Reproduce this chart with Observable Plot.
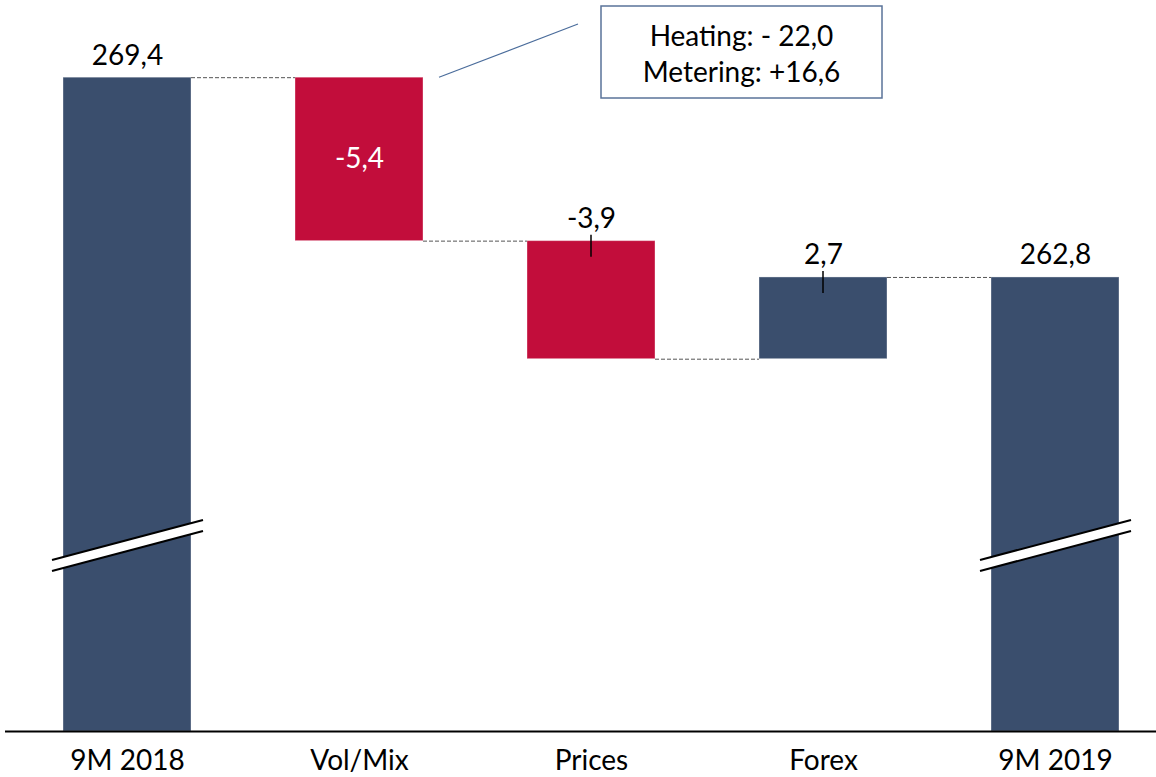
<!DOCTYPE html>
<html><head><meta charset="utf-8">
<script src="https://cdn.jsdelivr.net/npm/d3@7"></script>
<script src="https://cdn.jsdelivr.net/npm/@observablehq/plot@0.6"></script>
<style>
body{margin:0;background:#fff;}
#chart{position:relative;width:1156px;height:777px;}
svg{font-family:Lato,"Open Sans",sans-serif;color:#000;}
</style></head><body><div id="chart"></div>
<script>
// ---- data ----
const categories = ["9M 2018", "Vol/Mix", "Prices", "Forex", "9M 2019"];
const values = [269.4, -5.4, -3.9, 2.7, 262.8];
const isTotal = [true, false, false, false, true];
const valueLabels = ["269,4", "-5,4", "-3,9", "2,7", "262,8"];
const axisFloor = 247.8;   // value at the (broken) baseline
const axisCeil = 271.95;
const breakValue = 253.93; // where the axis-break mark sits
const noteLines = ["Heating: - 22,0", "Metering: +16,6"];

const NAVY = "#3a4e6d", RED = "#c20d3b";
const half = 64 / 232; // bar half-width in category units

let run = 0;
const bars = categories.map((c, i) => {
  let lo, hi;
  if (isTotal[i]) { lo = axisFloor; hi = values[i]; run = values[i]; }
  else { const s = run; run = s + values[i]; lo = Math.min(s, run); hi = Math.max(s, run); }
  return {i, cat: c, lo, hi, end: run, color: values[i] < 0 ? RED : NAVY, label: valueLabels[i], inside: i === 1};
});
const connectors = bars.slice(0, -1).map(b => ({level: b.end, x1: b.i + half, x2: b.i + 1 - half}));

const chart = Plot.plot({
  width: 1156, height: 777,
  marginTop: 0, marginBottom: 46, marginLeft: 5, marginRight: 0,
  x: {type: "linear", domain: [-0.5, 4.5], range: [11, 1171], axis: null},
  y: {domain: [axisFloor, axisCeil], axis: null},
  color: {type: "identity"},
  marks: [
    Plot.rectY(bars, {x1: d => d.i - half, x2: d => d.i + half, y1: "lo", y2: "hi", fill: d => d.color,
      stroke: "#ffffff", strokeOpacity: 0.35, strokeWidth: 1}),
    Plot.ruleY(connectors, {y: "level", x1: "x1", x2: "x2", stroke: "#555", strokeWidth: 1, strokeDasharray: "4,2"}),
    Plot.ruleY([axisFloor], {stroke: "#000", strokeWidth: 2}),
    Plot.text(bars.filter(d => !d.inside), {x: "i", y: "hi", text: "label", dy: -22, fontSize: 28, fill: "#000"}),
    Plot.text(bars.filter(d => d.inside), {x: "i", y: d => (d.lo + d.hi) / 2, text: "label", fontSize: 28, fill: "#fff"}),
    Plot.axisX(d3.range(categories.length), {tickFormat: i => categories[i], tickSize: 0, tickPadding: 19, fontSize: 28, fill: "#000"})
  ]
});
document.getElementById("chart").appendChild(chart);

// ---- decorations drawn with the chart's own scales ----
const xs = chart.scale("x").apply, ys = chart.scale("y").apply;
const svg = d3.select(chart);
const deco = svg.append("g");

// small leader ticks for the Prices and Forex labels
bars.filter(d => !d.inside && !isTotal[d.i]).forEach(d => {
  deco.append("line").attr("x1", xs(d.i)).attr("x2", xs(d.i))
    .attr("y1", ys(d.hi) - 6).attr("y2", ys(d.hi) + 16)
    .attr("stroke", "#000").attr("stroke-width", 1.5);
});

// axis-break marks on the total bars
bars.filter(d => isTotal[d.i]).forEach(d => {
  const cx = xs(d.i), cy = ys(breakValue);
  const L = cx - 75, R = cx + 76;
  deco.append("polygon")
    .attr("points", [[L, cy + 14.5], [R, cy - 25.5], [R, cy - 14.5], [L, cy + 25.5]].map(p => p.join(",")).join(" "))
    .attr("fill", "#fff");
  [[14.5, -25.5], [25.5, -14.5]].forEach(([a, b]) => {
    deco.append("line").attr("x1", L).attr("y1", cy + a).attr("x2", R).attr("y2", cy + b)
      .attr("stroke", "#000").attr("stroke-width", 2);
  });
});

// annotation callout
const ax = xs(1 + half) + 16, ay = ys(values[0]);
deco.append("line").attr("x1", ax).attr("y1", ay).attr("x2", 578).attr("y2", 24)
  .attr("stroke", "#4a6c9b").attr("stroke-width", 1.2);
deco.append("rect").attr("x", 601).attr("y", 6).attr("width", 281).attr("height", 92)
  .attr("fill", "#fff").attr("stroke", "#5a7399").attr("stroke-width", 1.5);
noteLines.forEach((t, k) => {
  deco.append("text").attr("x", 741.5).attr("y", 36 + k * 36).attr("dy", "0.35em")
    .attr("text-anchor", "middle").attr("font-size", 28).attr("fill", "#000").text(t);
});
</script></body></html>
